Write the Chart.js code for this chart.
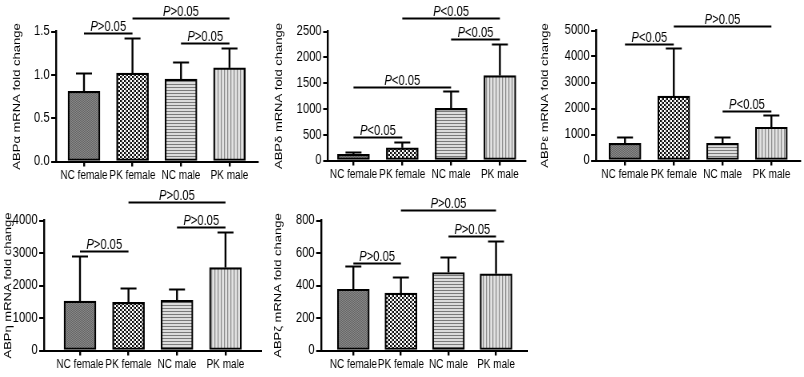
<!DOCTYPE html>
<html><head><meta charset="utf-8">
<script src="https://cdn.jsdelivr.net/npm/chart.js@4/dist/chart.umd.min.js"></script>
<style>
html,body{margin:0;padding:0;background:#fff;width:804px;height:377px;overflow:hidden}
body{position:relative}
canvas{position:absolute;display:block;transform-origin:0 0}
</style></head><body>
<canvas id="c1"></canvas>
<canvas id="c2"></canvas>
<canvas id="c3"></canvas>
<canvas id="c4"></canvas>
<canvas id="c5"></canvas>
<script>
// ---- data ----
const categories = ["NC female", "PK female", "NC male", "PK male"];

const abpAlpha = [0.81, 1.02, 0.95, 1.08];
const abpAlphaErr = [0.21, 0.40, 0.20, 0.23];
const abpAlphaTicks = [0, 0.5, 1.0, 1.5];
const abpAlphaTickLabels = ["0.0", "0.5", "1.0", "1.5"];
const abpAlphaBrackets = [[0, 1, 1.48, "P>0.05"], [1, 3, 1.66, "P>0.05"], [2, 3, 1.37, "P>0.05"]];

const abpDelta = [120, 245, 1010, 1645];
const abpDeltaErr = [50, 110, 330, 605];
const abpDeltaTicks = [0, 500, 1000, 1500, 2000, 2500];
const abpDeltaTickLabels = ["0", "500", "1000", "1500", "2000", "2500"];
const abpDeltaBrackets = [[0, 1, 455, "P<0.05"], [0, 2, 1415, "P<0.05"], [2, 3, 2355, "P<0.05"], [1, 3, 2770, "P<0.05"]];

const abpEpsilon = [660, 2480, 660, 1280];
const abpEpsilonErr = [260, 1840, 230, 480];
const abpEpsilonTicks = [0, 1000, 2000, 3000, 4000, 5000];
const abpEpsilonTickLabels = ["0", "1000", "2000", "3000", "4000", "5000"];
const abpEpsilonBrackets = [[0, 1, 4470, "P<0.05"], [1, 3, 5190, "P>0.05"], [2, 3, 1920, "P<0.05"]];

const abpEta = [1520, 1480, 1540, 2550];
const abpEtaErr = [1380, 450, 360, 1110];
const abpEtaTicks = [0, 1000, 2000, 3000, 4000];
const abpEtaTickLabels = ["0", "1000", "2000", "3000", "4000"];
const abpEtaBrackets = [[0, 1, 3060, "P>0.05"], [2, 3, 3790, "P>0.05"], [1, 3, 4580, "P>0.05"]];

const abpZeta = [377, 353, 480, 472];
const abpZetaErr = [146, 102, 98, 204];
const abpZetaTicks = [0, 200, 400, 600, 800];
const abpZetaTickLabels = ["0", "200", "400", "600", "800"];
const abpZetaBrackets = [[0, 1, 537, "P>0.05"], [2, 3, 702, "P>0.05"], [1, 3, 866, "P>0.05"]];

// ---- styling / layout ----
const FONT = "'Liberation Sans', Arial, Helvetica, sans-serif";
const K = 0.8; // horizontal squeeze of the original figure
const P_SIZE = 14;

function makePattern(w, h, draw) {
  const c = document.createElement('canvas');
  c.width = w; c.height = h;
  const x = c.getContext('2d');
  draw(x);
  return x.createPattern(c, 'repeat');
}
function fills() {
  const pDark = makePattern(2, 2, x => {
    x.fillStyle = '#8c8c8c'; x.fillRect(0, 0, 2, 2);
    x.fillStyle = '#626262'; x.fillRect(0, 0, 1, 1); x.fillRect(1, 1, 1, 1);
  });
  const pCheck = makePattern(5, 4, x => {
    x.fillStyle = '#ffffff'; x.fillRect(0, 0, 5, 4);
    x.fillStyle = '#111111'; x.fillRect(0, 0, 2.5, 2); x.fillRect(2.5, 2, 2.5, 2);
  });
  const pHoriz = makePattern(3, 3, x => {
    x.fillStyle = '#dcdcdc'; x.fillRect(0, 0, 3, 3);
    x.fillStyle = '#7a7a7a'; x.fillRect(0, 0, 3, 1);
  });
  const pVert = makePattern(4, 3, x => {
    x.fillStyle = '#e2e2e2'; x.fillRect(0, 0, 4, 3);
    x.fillStyle = '#8a8a8a'; x.fillRect(0, 0, 1.25, 3);
  });
  return [pDark, pCheck, pHoriz, pVert];
}

const panels = [
  { id: 'c1', title: 'ABPα mRNA fold change', values: abpAlpha, errs: abpAlphaErr, ticks: abpAlphaTicks, labels: abpAlphaTickLabels, brackets: abpAlphaBrackets,
    L: 0, T: 0, W: 262, H: 185, axisX: 56, yTop: 31.5, yZero: 161.5, c0: 84, s: 48.5, titleC: 17 },
  { id: 'c2', title: 'ABPδ mRNA fold change', values: abpDelta, errs: abpDeltaErr, ticks: abpDeltaTicks, labels: abpDeltaTickLabels, brackets: abpDeltaBrackets,
    L: 262, T: 0, W: 266, H: 185, axisX: 328, yTop: 31.5, yZero: 160.5, c0: 353.5, s: 48.8, titleC: 279 },
  { id: 'c3', title: 'ABPε mRNA fold change', values: abpEpsilon, errs: abpEpsilonErr, ticks: abpEpsilonTicks, labels: abpEpsilonTickLabels, brackets: abpEpsilonBrackets,
    L: 528, T: 0, W: 276, H: 185, axisX: 596, yTop: 30.5, yZero: 160.5, c0: 625, s: 48.8, titleC: 545 },
  { id: 'c4', title: 'ABPη mRNA fold change', values: abpEta, errs: abpEtaErr, ticks: abpEtaTicks, labels: abpEtaTickLabels, brackets: abpEtaBrackets,
    L: 0, T: 185, W: 262, H: 192, axisX: 44, yTop: 220.5, yZero: 350.5, c0: 80, s: 48.5, titleC: 8 },
  { id: 'c5', title: 'ABPζ mRNA fold change', values: abpZeta, errs: abpZetaErr, ticks: abpZetaTicks, labels: abpZetaTickLabels, brackets: abpZetaBrackets,
    L: 262, T: 185, W: 266, H: 192, axisX: 321, yTop: 220.5, yZero: 350.5, c0: 354, s: 48.5, titleC: 278 }
];

function overlayPlugin(p) {
  return {
    id: 'overlay' + p.id,
    afterDatasetsDraw(chart) {
      const ctx = chart.ctx, xs = chart.scales.x, ys = chart.scales.y;
      ctx.save();
      ctx.strokeStyle = '#000';
      ctx.lineCap = 'butt';
      // error bars
      p.values.forEach((v, i) => {
        const cx = xs.getPixelForValue(i);
        const y0 = ys.getPixelForValue(v);
        const y1 = Math.round(ys.getPixelForValue(v + p.errs[i])) + 0.5;
        ctx.lineWidth = 2.4;
        ctx.beginPath();
        ctx.moveTo(cx, y0); ctx.lineTo(cx, y1);
        ctx.stroke();
        ctx.lineWidth = 2;
        ctx.beginPath();
        ctx.moveTo(cx - 8 / K, y1); ctx.lineTo(cx + 8 / K, y1);
        ctx.stroke();
      });
      // significance brackets
      ctx.lineWidth = 2;
      p.brackets.forEach(([a, b, yv, txt]) => {
        const xa = xs.getPixelForValue(a), xb = xs.getPixelForValue(b);
        const yy = Math.round(ys.getPixelForValue(yv)) + 0.5;
        ctx.beginPath();
        ctx.moveTo(xa, yy); ctx.lineTo(xb, yy);
        ctx.stroke();
        const first = txt.charAt(0), rest = txt.slice(1);
        ctx.fillStyle = '#000';
        ctx.textBaseline = 'alphabetic';
        ctx.textAlign = 'left';
        ctx.font = 'italic ' + P_SIZE + 'px ' + FONT;
        const w1 = ctx.measureText(first).width;
        ctx.font = P_SIZE + 'px ' + FONT;
        const w2 = ctx.measureText(rest).width;
        const sx = (xa + xb) / 2 - (w1 + w2) / 2;
        ctx.font = 'italic ' + P_SIZE + 'px ' + FONT;
        ctx.fillText(first, sx, yy - 2.5);
        ctx.font = P_SIZE + 'px ' + FONT;
        ctx.fillText(rest, sx + w1, yy - 2.5);
      });
      ctx.restore();
    }
  };
}

panels.forEach(p => {
  const cv = document.getElementById(p.id);
  const cw = Math.round(p.W / K);
  cv.width = cw; cv.height = p.H;
  cv.style.left = p.L + 'px'; cv.style.top = p.T + 'px';
  cv.style.transform = 'scaleX(' + K + ')';
  const ctx = cv.getContext('2d');
  const g = (p.c0 - p.axisX) / p.s;
  const axisC = (p.axisX - p.L) / K;
  const rightC = (p.axisX + (3 + 2 * g) * p.s - p.L) / K;
  const lh = 13 * 1.2;
  new Chart(ctx, {
    type: 'bar',
    data: {
      datasets: [{
        data: p.values.map((v, i) => ({ x: i, y: v })),
        backgroundColor: fills(),
        borderColor: '#000',
        borderWidth: 2.2,
        borderSkipped: false,
        barThickness: 32 / K
      }]
    },
    options: {
      responsive: false,
      animation: false,
      events: [],
      layout: { autoPadding: false, padding: { top: p.yTop - p.T, right: cw - rightC, left: 0, bottom: 0 } },
      plugins: { legend: { display: false }, tooltip: { enabled: false } },
      scales: {
        x: {
          type: 'linear', min: -g, max: 3 + g, offset: false,
          afterBuildTicks: sc => { sc.ticks = [0, 1, 2, 3].map(v => ({ value: v })); },
          ticks: { callback: (v, i) => categories[i], font: { family: FONT, size: 12.5 }, color: '#000', padding: 2, maxRotation: 0, autoSkip: false },
          grid: { display: true, offset: false, drawOnChartArea: false, tickLength: 5, color: '#000', lineWidth: 2.4 },
          border: { display: true, color: '#000', width: 2 },
          afterFit: sc => { sc.height = p.T + p.H - p.yZero; }
        },
        y: {
          min: 0, max: p.ticks[p.ticks.length - 1],
          afterBuildTicks: sc => { sc.ticks = p.ticks.map(v => ({ value: v })); },
          ticks: { callback: (v, i) => p.labels[i], font: { family: FONT, size: 14 }, color: '#000', padding: 2 },
          grid: { display: true, drawOnChartArea: false, tickLength: 6, color: '#000', lineWidth: 2 },
          border: { display: true, color: '#000', width: 2.4 },
          title: { display: true, text: p.title, color: '#000', font: { family: FONT, size: 13 }, padding: { top: (p.titleC - p.L) / K - lh / 2, bottom: 0 } },
          afterFit: sc => { sc.width = axisC; }
        }
      }
    },
    plugins: [overlayPlugin(p)]
  });
});
</script>
</body></html>
